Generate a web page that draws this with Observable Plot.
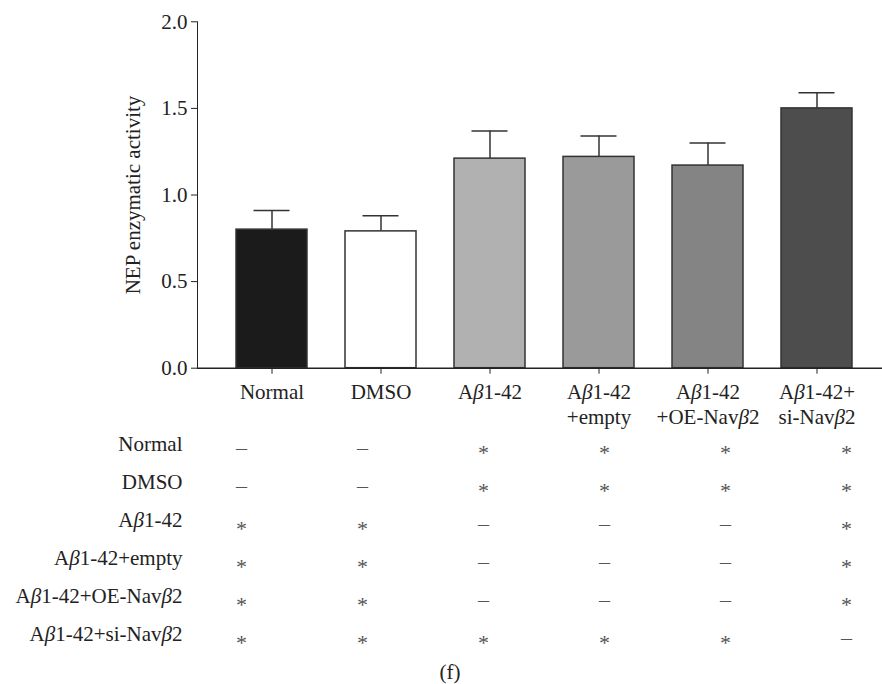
<!DOCTYPE html>
<html><head><meta charset="utf-8">
<script src="https://cdn.jsdelivr.net/npm/d3@7"></script>
<script src="https://cdn.jsdelivr.net/npm/@observablehq/plot@0.6"></script>
<style>
body{margin:0;background:#fff;}
#chart svg{display:block;}
#cap{font-family:"Liberation Serif",serif;font-size:21px;line-height:24px;height:24px;text-align:center;padding-left:18px;color:#222;}
</style></head><body><div id="chart"></div><div id="cap">(f)</div>
<script>
const groups = ["Normal", "DMSO", "Aβ1-42", "Aβ1-42\n+empty", "Aβ1-42\n+OE-Navβ2", "Aβ1-42+\nsi-Navβ2"];
const means = [0.80, 0.79, 1.21, 1.22, 1.17, 1.50];
const sems = [0.11, 0.09, 0.16, 0.12, 0.13, 0.09];
const fills = ["#1b1b1b", "#ffffff", "#b1b1b1", "#9a9a9a", "#848484", "#4d4d4d"];
const yTicks = [0, 0.5, 1.0, 1.5, 2.0];
const rowLabels = ["Normal", "DMSO", "Aβ1-42", "Aβ1-42+empty", "Aβ1-42+OE-Navβ2", "Aβ1-42+si-Navβ2"];
const sigRows = [
  ["–", "–", "*", "*", "*", "*"],
  ["–", "–", "*", "*", "*", "*"],
  ["*", "*", "–", "–", "–", "*"],
  ["*", "*", "–", "–", "–", "*"],
  ["*", "*", "–", "–", "–", "*"],
  ["*", "*", "*", "*", "*", "–"]
];

const bars = groups.map((g, i) => ({group: g, mean: means[i], upper: means[i] + sems[i], fill: fills[i]}));
const cells = [];
rowLabels.forEach((r, ri) => sigRows[ri].forEach((s, ci) => cells.push({row: r, group: groups[ci], sym: s})));

const font = {fontFamily: "'Liberation Serif', serif", fontSize: "21px", color: "#222", background: "#fff"};
const xScale = {domain: groups, range: [197, 890], padding: 0.35};

const topPlot = Plot.plot({
  width: 882, height: 430,
  marginLeft: 197, marginRight: 0, marginTop: 21.3, marginBottom: 62.3,
  style: font,
  x: {...xScale},
  y: {domain: [0, 2], ticks: yTicks, tickFormat: d3.format(".1f"), tickSize: 6, tickPadding: 4,
      line: true, label: "NEP enzymatic activity", labelArrow: "none", labelAnchor: "center", labelOffset: 72},
  marks: [
    Plot.ruleX(bars, {x: "group", y1: "mean", y2: "upper", stroke: "#333", strokeWidth: 1.5}),
    Plot.tickY(bars, {x: "group", y: "upper", insetLeft: 17.5, insetRight: 17.5, stroke: "#333", strokeWidth: 1.5}),
    Plot.barY(bars, {x: "group", y: "mean", fill: "fill", stroke: "#333", strokeWidth: 1.5}),
    Plot.axisX({tickSize: 6, tickPadding: 7, lineHeight: 1.2, label: null}),
    Plot.ruleY([0], {stroke: "#222", strokeWidth: 1.5})
  ]
});

const bottomPlot = Plot.plot({
  width: 882, height: 230,
  marginLeft: 197, marginRight: 0, marginTop: 11.7, marginBottom: 23.8,
  style: font,
  x: {...xScale, axis: null},
  y: {type: "point", domain: rowLabels, padding: 0, axis: null},
  marks: [
    Plot.axisY({tickSize: 0, tickPadding: 15, label: null}),
    Plot.text(cells.filter(d => d.sym === "*"), {x: "group", y: "row", text: "sym", fontSize: 22, dy: 8.5, fill: "#555"}),
    Plot.text(cells.filter(d => d.sym !== "*"), {x: "group", y: "row", text: "sym", fontSize: 22, dy: 3, fill: "#555"})
  ]
});

function italicBeta(svg) {
  const walker = document.createTreeWalker(svg, NodeFilter.SHOW_TEXT);
  const nodes = [];
  while (walker.nextNode()) if (walker.currentNode.nodeValue.includes("β")) nodes.push(walker.currentNode);
  for (const n of nodes) {
    const parts = n.nodeValue.split("β");
    const frag = document.createDocumentFragment();
    parts.forEach((p, i) => {
      if (i > 0) {
        const t = document.createElementNS("http://www.w3.org/2000/svg", "tspan");
        t.setAttribute("font-style", "italic");
        t.textContent = "β";
        frag.appendChild(t);
      }
      if (p) frag.appendChild(document.createTextNode(p));
    });
    n.parentNode.replaceChild(frag, n);
  }
}
italicBeta(topPlot);
italicBeta(bottomPlot);
document.getElementById("chart").append(topPlot, bottomPlot);
</script>
</body></html>
